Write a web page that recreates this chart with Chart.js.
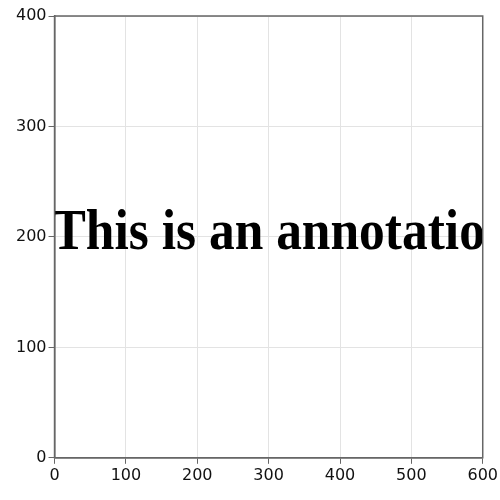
<!DOCTYPE html>
<html><head><meta charset="utf-8">
<script src="https://cdn.jsdelivr.net/npm/chart.js@4"></script>
<style>html,body{margin:0;padding:0;background:#fff}#w{width:500px;height:500px}</style>
</head><body><div id="w"><canvas id="c"></canvas></div>
<script>
const xRange = [0, 600];
const yRange = [0, 400];
const xTicks = [0, 100, 200, 300, 400, 500, 600];
const yTicks = [0, 100, 200, 300, 400];
const annotationText = ["This is an annotation"];
const annotationX = [0];
const annotationY = [200];

const annot = {
  id: 'annot',
  afterDatasetsDraw(chart) {
    const {ctx, chartArea: a, scales: {x, y}} = chart;
    ctx.save();
    ctx.beginPath();
    ctx.rect(a.left, a.top, a.right - a.left, a.bottom - a.top);
    ctx.clip();
    ctx.fillStyle = '#000';
    ctx.font = 'bold 58px "Liberation Serif", serif';
    ctx.textAlign = 'left';
    ctx.textBaseline = 'alphabetic';
    annotationText.forEach((t, i) => {
      const w = ctx.measureText(t).width;
      const sx = 462 / w;
      const px = x.getPixelForValue(annotationX[i]);
      const py = y.getPixelForValue(annotationY[i]) + 12;
      ctx.save();
      ctx.translate(px - 3, py);
      ctx.scale(sx, 1);
      ctx.fillText(t, 0, 0);
      ctx.restore();
    });
    ctx.restore();
    ctx.save();
    ctx.strokeStyle = '#666';
    ctx.lineWidth = 1.5;
    ctx.strokeRect(a.left, a.top, a.right - a.left, a.bottom - a.top);
    ctx.restore();
  }
};

new Chart(document.getElementById('c'), {
  type: 'scatter',
  data: { datasets: [{ data: [] }] },
  options: {
    responsive: true, maintainAspectRatio: false, animation: false,
    layout: { padding: { left: 14, right: 0, top: 16, bottom: 13 } },
    plugins: { legend: { display: false }, tooltip: { enabled: false } },
    scales: {
      x: {
        type: 'linear', min: xRange[0], max: xRange[1],
        afterBuildTicks: s => { s.ticks = xTicks.map(v => ({value: v})); },
        grid: { color: '#e3e3e3', tickLength: 6, tickColor: '#666' },
        border: { color: '#666', width: 1.5 },
        ticks: { color: '#111', font: { family: 'DejaVu Sans', size: 16 }, padding: 2, maxRotation: 0 }
      },
      y: {
        type: 'linear', min: yRange[0], max: yRange[1],
        afterBuildTicks: s => { s.ticks = yTicks.map(v => ({value: v})); },
        grid: { color: '#e3e3e3', tickLength: 6, tickColor: '#666' },
        border: { color: '#666', width: 1.5 },
        ticks: { color: '#111', font: { family: 'DejaVu Sans', size: 16 }, padding: 2 }
      }
    }
  },
  plugins: [annot]
});
</script></body></html>
